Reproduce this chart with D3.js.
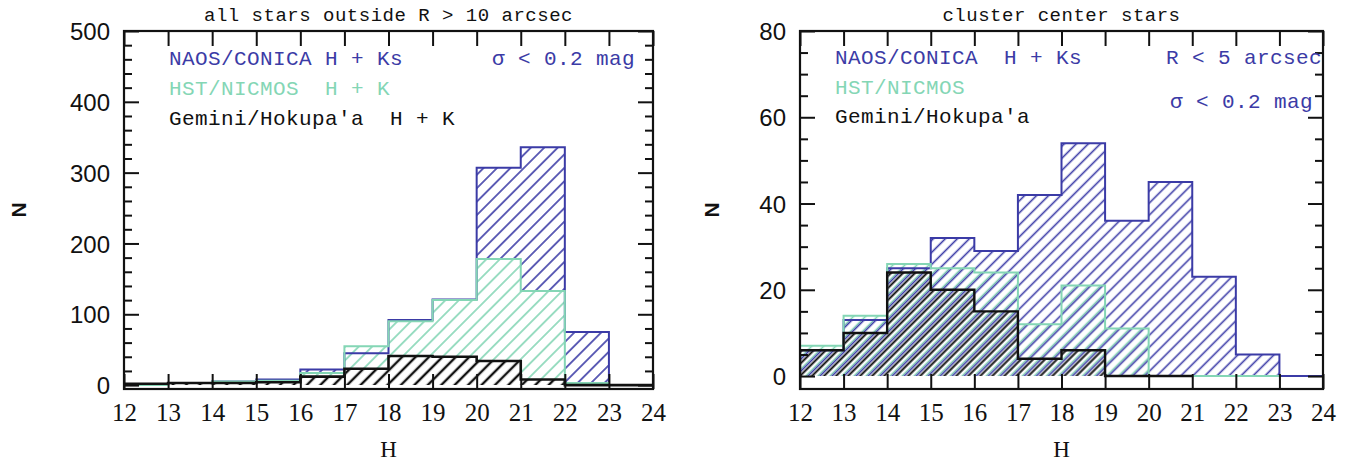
<!DOCTYPE html>
<html>
<head>
<meta charset="utf-8">
<script src="https://cdn.jsdelivr.net/npm/d3@7"></script>
<style>
  body { margin: 0; background: #fff; }
  svg { display: block; }
  .legend-text { white-space: pre; }
</style>
</head>
<body>
<svg id="chart" width="1358" height="463"></svg>
<script>
// H-band luminosity functions, one bin per magnitude
const binStarts = [12, 13, 14, 15, 16, 17, 18, 19, 20, 21, 22, 23];
const hTicks = [12, 13, 14, 15, 16, 17, 18, 19, 20, 21, 22, 23, 24];

// all stars outside R > 10 arcsec
const outerNaco   = [1, 3, 5, 8, 22, 45, 92, 121, 307, 336, 75, 0];
const outerNicmos = [0, 3, 5, 6, 17, 55, 90, 120, 178, 133, 3, 0];
const outerGemini = [2, 3, 3, 4, 12, 23, 41, 40, 34, 8, 0, 0];
const outerNTicks = [0, 100, 200, 300, 400, 500];

// cluster center stars (R < 5 arcsec)
const coreNaco   = [6, 13, 25, 32, 29, 42, 54, 36, 45, 23, 5, 0];
const coreNicmos = [7, 14, 26, 25, 24, 12, 21, 11, 0, 0, 0];
const coreGemini = [6, 10, 24, 20, 15, 4, 6, 0, 0];
const coreNTicks = [0, 20, 40, 60, 80];

const BLUE = "#3b3ba6";
const GREEN = "#84d6b5";
const BLACK = "#111";

const MONO = "'Liberation Mono', 'DejaVu Sans Mono', monospace";
const SANS = "'Liberation Sans', Arial, sans-serif";
const SERIF = "'Liberation Serif', 'DejaVu Serif', serif";

const svg = d3.select("#chart");
const defs = svg.append("defs");

const panels = [
  {
    id: "outer",
    title: "all stars outside R > 10 arcsec",
    x0: 124, x1: 653, yTop: 31, yBot: 389,
    yDomain: [-5.5, 500],
    majorY: outerNTicks, minorStep: 20,
    hatch: 9.5, opaque: true,
    series: [
      { name: "naco",   values: outerNaco,   color: BLUE,  hw: 1.6, ow: 2.0, offset: 0 },
      { name: "nicmos", values: outerNicmos, color: GREEN, hw: 1.6, ow: 2.0, offset: 0 },
      { name: "gemini", values: outerGemini, color: BLACK, hw: 2.4, ow: 2.6, offset: 0 }
    ],
    fillOrder: ["naco", "nicmos", "gemini"],
    legend: [
      { text: "NAOS/CONICA H + Ks", color: BLUE, x: 169, y: 65, anchor: "start" },
      { text: "\u03c3 < 0.2 mag", color: BLUE, x: 635, y: 65, anchor: "end" },
      { text: "HST/NICMOS  H + K", color: GREEN, x: 169, y: 95, anchor: "start" },
      { text: "Gemini/Hokupa'a  H + K", color: BLACK, x: 169, y: 125, anchor: "start" }
    ]
  },
  {
    id: "core",
    title: "cluster center stars",
    x0: 800, x1: 1323, yTop: 31, yBot: 389,
    yDomain: [-3, 80],
    majorY: coreNTicks, minorStep: 5,
    hatch: 8.5, opaque: false,
    series: [
      { name: "naco",   values: coreNaco,   color: BLUE,  hw: 1.6, ow: 2.0, offset: 0 },
      { name: "nicmos", values: coreNicmos, color: GREEN, hw: 1.6, ow: 2.0, offset: -1.5 },
      { name: "gemini", values: coreGemini, color: BLACK, hw: 2.0, ow: 2.4, offset: 2.8 }
    ],
    fillOrder: ["nicmos", "naco", "gemini"],
    legend: [
      { text: "NAOS/CONICA  H + Ks", color: BLUE, x: 835, y: 64, anchor: "start" },
      { text: "R < 5 arcsec", color: BLUE, x: 1322, y: 64, anchor: "end" },
      { text: "\u03c3 < 0.2 mag", color: BLUE, x: 1313, y: 108, anchor: "end" },
      { text: "HST/NICMOS", color: GREEN, x: 835, y: 94, anchor: "start" },
      { text: "Gemini/Hokupa'a", color: BLACK, x: 835, y: 123, anchor: "start" }
    ]
  }
];

panels.forEach(p => {
  const x = d3.scaleLinear().domain([12, 24]).range([p.x0, p.x1]);
  const y = d3.scaleLinear().domain(p.yDomain).range([p.yBot, p.yTop]);
  const g = svg.append("g");

  defs.append("clipPath").attr("id", "clip-" + p.id)
    .append("rect")
    .attr("x", p.x0).attr("y", p.yTop)
    .attr("width", p.x1 - p.x0).attr("height", p.yBot - p.yTop);

  // diagonal hatch patterns, one per instrument
  p.series.forEach(s => {
    const pat = defs.append("pattern")
      .attr("id", `hatch-${p.id}-${s.name}`)
      .attr("patternUnits", "userSpaceOnUse")
      .attr("width", p.hatch).attr("height", p.hatch)
      .attr("patternTransform", `rotate(45) translate(${s.offset},0)`);
    if (p.opaque) {
      pat.append("rect").attr("width", p.hatch).attr("height", p.hatch).attr("fill", "#fff");
    }
    pat.append("line")
      .attr("x1", p.hatch / 2).attr("x2", p.hatch / 2)
      .attr("y1", 0).attr("y2", p.hatch)
      .attr("stroke", s.color).attr("stroke-width", s.hw);
  });

  const plot = g.append("g").attr("clip-path", `url(#clip-${p.id})`);

  const stepPoints = vals => {
    const pts = vals.map((v, i) => [binStarts[i], v]);
    pts.push([binStarts[vals.length - 1] + 1, vals[vals.length - 1]]);
    return pts;
  };

  const area = d3.area().curve(d3.curveStepAfter)
    .x(d => x(d[0])).y0(y(0)).y1(d => y(d[1]));
  const line = d3.line().curve(d3.curveStepAfter)
    .x(d => x(d[0])).y(d => y(d[1]));

  const byName = Object.fromEntries(p.series.map(s => [s.name, s]));
  p.fillOrder.forEach(name => {
    const s = byName[name];
    plot.append("path")
      .attr("d", area(stepPoints(s.values)))
      .attr("fill", `url(#hatch-${p.id}-${s.name})`)
      .attr("stroke", "none");
  });
  p.series.forEach(s => {
    const pts = [[12, 0]].concat(stepPoints(s.values));
    plot.append("path")
      .attr("d", line(pts))
      .attr("fill", "none")
      .attr("stroke", s.color)
      .attr("stroke-width", s.ow)
      .attr("stroke-linejoin", "miter");
  });

  // axes: ticks point inward on all four sides
  const minorY = d3.range(0, p.yDomain[1] + 0.001, p.minorStep).filter(v => !p.majorY.includes(v));

  const xb = g.append("g").attr("transform", `translate(0,${p.yBot})`)
    .call(d3.axisBottom(x).tickValues(hTicks).tickSize(-15).tickPadding(0).tickFormat(d3.format("d")));
  xb.selectAll("text")
    .attr("y", 32).attr("dy", 0)
    .style("font-family", SERIF).style("font-size", "25px").attr("fill", "#111");

  g.append("g").attr("transform", `translate(0,${p.yTop})`)
    .call(d3.axisTop(x).tickValues(hTicks).tickSize(-15).tickFormat(""));

  const yl = g.append("g").attr("transform", `translate(${p.x0},0)`)
    .call(d3.axisLeft(y).tickValues(p.majorY).tickSize(-15).tickPadding(14));
  yl.selectAll("text")
    .attr("x", -14).attr("dy", "0.36em")
    .style("font-family", SANS).style("font-size", "24px").attr("fill", "#111");
  g.append("g").attr("transform", `translate(${p.x0},0)`)
    .call(d3.axisLeft(y).tickValues(minorY).tickSize(-8).tickFormat(""));

  g.append("g").attr("transform", `translate(${p.x1},0)`)
    .call(d3.axisRight(y).tickValues(p.majorY).tickSize(-15).tickFormat(""));
  g.append("g").attr("transform", `translate(${p.x1},0)`)
    .call(d3.axisRight(y).tickValues(minorY).tickSize(-8).tickFormat(""));

  g.selectAll(".domain").remove();
  g.selectAll(".tick line").attr("stroke", "#111").attr("stroke-width", 2);

  g.append("rect")
    .attr("x", p.x0).attr("y", p.yTop)
    .attr("width", p.x1 - p.x0).attr("height", p.yBot - p.yTop)
    .attr("fill", "none").attr("stroke", "#111").attr("stroke-width", 2.2);

  // title and axis labels
  g.append("text")
    .attr("x", (p.x0 + p.x1) / 2).attr("y", 21)
    .attr("text-anchor", "middle")
    .style("font-family", MONO).style("font-size", "19px").style("letter-spacing", "0.5px")
    .attr("fill", "#111")
    .text(p.title);

  g.append("text")
    .attr("x", (p.x0 + p.x1) / 2).attr("y", 457)
    .attr("text-anchor", "middle")
    .style("font-family", SERIF).style("font-size", "23px")
    .attr("fill", "#111")
    .text("H");

  const nx = p.x0 - 106 + (p.id === "core" ? 17 : 0);
  g.append("text")
    .attr("transform", `translate(${nx},210) rotate(-90)`)
    .attr("text-anchor", "middle").attr("dy", "0.36em")
    .style("font-family", SANS).style("font-size", "21px").style("font-weight", "bold")
    .attr("fill", "#111")
    .text("N");

  // instrument legend
  g.selectAll(".legend-text").data(p.legend).enter().append("text")
    .attr("class", "legend-text")
    .attr("x", d => d.x).attr("y", d => d.y)
    .attr("text-anchor", d => d.anchor)
    .style("font-family", MONO).style("font-size", "21px").style("letter-spacing", "0.4px")
    .attr("fill", d => d.color)
    .text(d => d.text);
});
</script>
</body>
</html>
